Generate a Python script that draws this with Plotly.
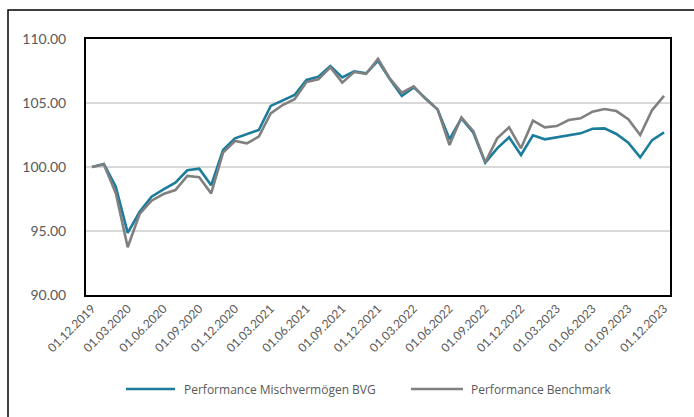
import pandas as pd
import plotly.graph_objects as go

dates = [d.strftime("01.%m.%Y") for d in pd.date_range("2019-12-01", "2023-12-01", freq="MS")]

fund = [100.0, 100.23, 98.45, 94.85, 96.5, 97.68, 98.25, 98.77, 99.74, 99.87,
        98.57, 101.33, 102.24, 102.58, 102.89, 104.77, 105.18, 105.63, 106.8, 107.06,
        107.89, 107.0, 107.48, 107.32, 108.3, 106.85, 105.55, 106.22, 105.36, 104.5,
        102.16, 103.8, 102.68, 100.34, 101.46, 102.32, 100.94, 102.47, 102.16, 102.32,
        102.5, 102.63, 102.99, 103.02, 102.58, 101.9, 100.75, 102.1, 102.71]

bench = [100.0, 100.2, 97.95, 93.73, 96.33, 97.37, 97.89, 98.2, 99.3, 99.2,
         97.94, 101.12, 102.03, 101.85, 102.37, 104.19, 104.84, 105.29, 106.64, 106.85,
         107.79, 106.59, 107.42, 107.27, 108.45, 106.9, 105.8, 106.3, 105.3, 104.5,
         101.72, 103.88, 102.8, 100.36, 102.24, 103.1, 101.46, 103.62, 103.1, 103.2,
         103.67, 103.8, 104.32, 104.53, 104.37, 103.73, 102.5, 104.45, 105.55]

series_names = ["Performance Mischvermögen BVG", "Performance Benchmark"]
series_colors = ["#1B7C9C", "#808080"]

tick_labels = dates[::3]
y_ticks = [90, 95, 100, 105, 110]

font_family = "Lato, Carlito, Liberation Sans, Arial, sans-serif"
legend_font = "Open Sans, Lato, Arial, sans-serif"

fig = go.Figure()
for name, vals, col in zip(series_names, [fund, bench], series_colors):
    fig.add_trace(go.Scatter(x=dates, y=vals, mode="lines", name=name,
                             line=dict(color=col, width=2.6), showlegend=False))

# plot area: x 86..670 px, y 39..295 px
def px_x(p):
    return (p - 86) / 584

def px_y(p):
    return (295 - p) / 256

# manual legend (line samples + labels)
legend_items = [(126, 175, 182), (411, 463, 469)]
for (lx0, lx1, tx), name, col in zip(legend_items, series_names, series_colors):
    fig.add_shape(type="line", xref="paper", yref="paper",
                  x0=px_x(lx0), x1=px_x(lx1), y0=px_y(389), y1=px_y(389),
                  line=dict(color=col, width=2.6))
    fig.add_annotation(xref="paper", yref="paper", x=px_x(tx), y=px_y(389),
                       xanchor="left", yanchor="middle", text=name, showarrow=False,
                       font=dict(family=legend_font, size=12, color="#595959"))

fig.update_layout(
    width=694, height=417,
    margin=dict(l=86, r=24, t=39, b=122),
    paper_bgcolor="white", plot_bgcolor="white",
    font=dict(family=font_family, color="#595959"),
    showlegend=False,
    xaxis=dict(type="category", range=[-0.5, len(dates) - 0.5],
               tickmode="array", tickvals=tick_labels, ticktext=tick_labels,
               tickangle=-45, tickfont=dict(size=12, color="#595959"),
               showgrid=False, showline=True, linecolor="black", linewidth=2, mirror=True,
               ticks=""),
    yaxis=dict(range=[90, 110], tickmode="array", tickvals=y_ticks,
               ticktext=[f"{v:.2f}" for v in y_ticks],
               tickfont=dict(size=14, color="#595959"),
               showgrid=True, gridcolor="#D9D9D9", gridwidth=1.5,
               showline=True, linecolor="black", linewidth=2, mirror=True,
               ticks="outside", ticklen=15, tickcolor="rgba(0,0,0,0)", zeroline=False),
)

# outer chart frame
fig.add_shape(type="rect", xref="paper", yref="paper",
              x0=px_x(8), x1=px_x(720), y0=px_y(440), y1=px_y(10),
              line=dict(color="black", width=1.5), layer="below")

fig.write_html("out.html", config={"displayModeBar": False},
               post_script="document.body.style.margin='0';")
